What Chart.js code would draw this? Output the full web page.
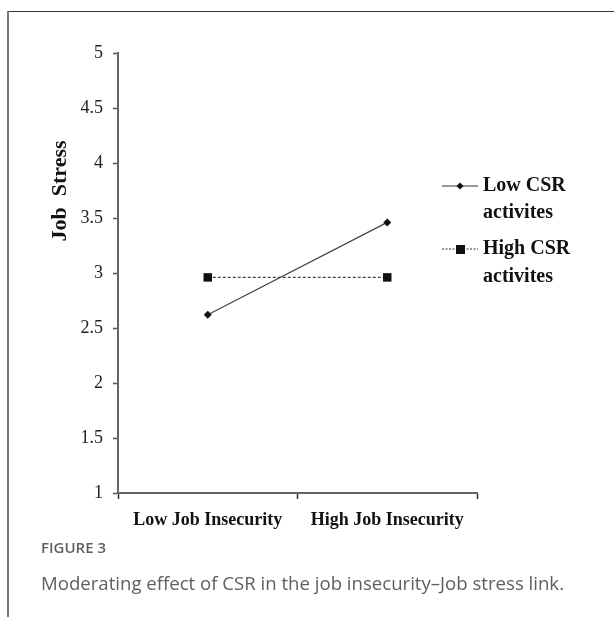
<!DOCTYPE html>
<html>
<head>
<meta charset="utf-8">
<script src="https://cdn.jsdelivr.net/npm/chart.js@4"></script>
<style>
    html, body { margin: 0; padding: 0; background: #fff; }
    #wrap { position: relative; width: 614px; height: 617px; overflow: hidden; }
    #frameTop { position: absolute; left: 7px; top: 11px; width: 607px; height: 1px; background: #333; }
    #frameLeft { position: absolute; left: 7px; top: 11px; width: 2px; height: 606px; background: #777; }
    #chartBox { position: absolute; left: 0; top: 0; width: 614px; height: 617px; }
    .cap { position: absolute; left: 41px; font-family: "Open Sans", sans-serif; color: #5f5f5f; white-space: nowrap; }
    #capNum { top: 537px; font-size: 15px; font-weight: 600; }
    #capText { top: 570px; font-size: 18.6px; }
</style>
</head>
<body>
<div id="wrap">
    <div id="frameTop"></div>
    <div id="frameLeft"></div>
    <div id="chartBox"><canvas id="stressChart" width="614" height="617"></canvas></div>
    <div class="cap" id="capNum">FIGURE 3</div>
    <div class="cap" id="capText">Moderating effect of CSR in the job insecurity–Job stress link.</div>
</div>
<script>
const categories = ['Low Job Insecurity', 'High Job Insecurity'];
const lowCsrValues = [2.62, 3.46];
const highCsrValues = [2.96, 2.96];
const yTicks = [1, 1.5, 2, 2.5, 3, 3.5, 4, 4.5, 5];

const serif = '"Liberation Serif", "Times New Roman", serif';

// legend and rotated axis title, drawn by hand like the original figure
const sideTexts = {
    id: 'sideTexts',
    afterDraw(chart) {
        const ctx = chart.ctx;
        ctx.save();
        ctx.fillStyle = '#111';
        ctx.font = 'bold 22px ' + serif;
        ctx.translate(60, 191);
        ctx.rotate(-Math.PI / 2);
        ctx.textAlign = 'center';
        ctx.textBaseline = 'middle';
        ctx.fillText('Job  Stress', 0, 0);
        ctx.restore();

        ctx.save();
        ctx.strokeStyle = '#333';
        ctx.fillStyle = '#111';
        ctx.lineWidth = 1.2;
        ctx.beginPath();
        ctx.moveTo(442, 186);
        ctx.lineTo(478, 186);
        ctx.stroke();
        ctx.beginPath();
        ctx.moveTo(460, 182.5);
        ctx.lineTo(463.5, 186);
        ctx.lineTo(460, 189.5);
        ctx.lineTo(456.5, 186);
        ctx.closePath();
        ctx.fill();

        ctx.setLineDash([2, 1.5]);
        ctx.beginPath();
        ctx.moveTo(442, 249);
        ctx.lineTo(478, 249);
        ctx.stroke();
        ctx.setLineDash([]);
        ctx.fillRect(456, 245, 9, 9);

        ctx.font = 'bold 20px ' + serif;
        ctx.textAlign = 'left';
        ctx.textBaseline = 'middle';
        ctx.fillText('Low CSR', 483, 186);
        ctx.fillText('activites', 483, 213);
        ctx.fillText('High CSR', 483, 249);
        ctx.fillText('activites', 483, 277);
        ctx.restore();
    }
};

const stressCtx = document.getElementById('stressChart').getContext('2d');

new Chart(stressCtx, {
    type: 'line',
    data: {
        labels: categories,
        datasets: [{
            label: 'Low CSR activites',
            data: lowCsrValues,
            borderColor: '#444',
            backgroundColor: '#111',
            borderWidth: 1.2,
            pointStyle: 'rectRot',
            pointRadius: 4,
            pointBorderWidth: 0
        }, {
            label: 'High CSR activites',
            data: highCsrValues,
            borderColor: '#444',
            backgroundColor: '#111',
            borderWidth: 1.2,
            borderDash: [3, 2],
            pointStyle: 'rect',
            pointRadius: 6,
            pointBorderWidth: 0
        }]
    },
    options: {
        responsive: false,
        animation: false,
        layout: {
            padding: { top: 53, right: 137, left: 0, bottom: 0 }
        },
        plugins: {
            legend: { display: false },
            tooltip: { enabled: false }
        },
        scales: {
            x: {
                offset: true,
                grid: {
                    offset: true,
                    drawOnChartArea: false,
                    tickLength: 6,
                    tickColor: '#333',
                    tickWidth: 1.5
                },
                border: { color: '#666', width: 2 },
                ticks: {
                    color: '#111',
                    font: { family: serif, size: 18, weight: 'bold' },
                    padding: 11,
                    maxRotation: 0
                },
                afterFit(scale) { scale.height = 124; }
            },
            y: {
                min: 1,
                max: 5,
                afterBuildTicks(scale) { scale.ticks = yTicks.map(v => ({ value: v })); },
                grid: {
                    drawOnChartArea: false,
                    tickLength: 5,
                    tickColor: '#555',
                    tickWidth: 1.5
                },
                border: { color: '#666', width: 2 },
                ticks: {
                    color: '#222',
                    font: { family: serif, size: 18 },
                    padding: 10,
                    callback: v => String(v)
                },
                afterFit(scale) { scale.width = 118; }
            }
        }
    },
    plugins: [sideTexts]
});
</script>
</body>
</html>
